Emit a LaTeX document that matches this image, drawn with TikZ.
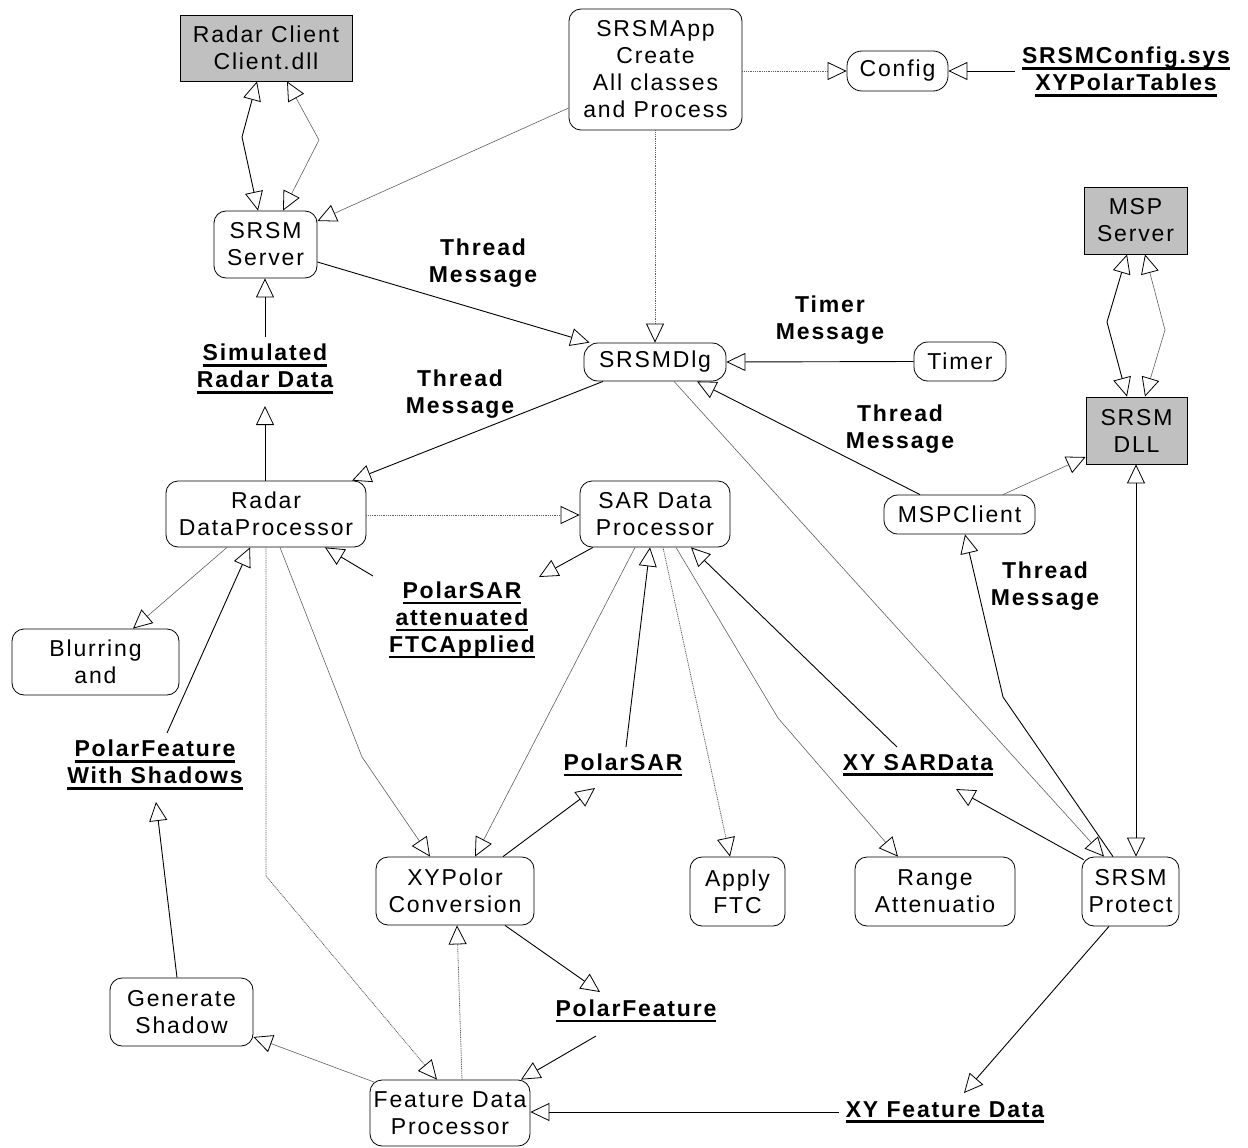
\documentclass[tikz,border=0pt]{standalone}
\usepackage{fontspec}
\setmainfont{Liberation Sans}[LetterSpace=8]
\usetikzlibrary{arrows.meta,calc}
\definecolor{boxgray}{RGB}{192,192,192}
\definecolor{linegray}{RGB}{95,95,95}
% underlined bold data label line
\newcommand\dataline[1]{\setbox0\hbox{#1}\rlap{\rule[-5.8pt]{\wd0}{2.6pt}}\box0}
\tikzset{
  open tri/.tip={Triangle[open,length=19pt,width=18pt,color=black,line width=0.8pt]},
  sz/.style 2 args={minimum width=#1pt,minimum height=#2pt},
  box/.style={draw,line width=0.8pt,rounded corners=12pt,align=center,inner sep=0pt},
  gbox/.style={draw,fill=boxgray,line width=0.8pt,align=center,inner sep=0pt},
  lbl/.style={align=center,inner sep=0pt,font=\fontsize{23}{27}\selectfont\bfseries},
  blk/.style={draw=black,line width=0.9pt,-{open tri}},
  thn/.style={draw=linegray,line width=0.6pt,-{open tri}},
  dot/.style={draw=linegray,line width=0.8pt,dash pattern=on 1pt off 0.8pt,-{open tri}},
}
\begin{document}
\begin{tikzpicture}[x=1pt,y=-1pt,font=\fontsize{23}{27}\selectfont]
\useasboundingbox (0,0) rectangle (1248,1148);

% ---- boxes ----
\node[gbox,sz={172}{66}] (rc) at (266,48) {Radar Client\\Client.dll};
\node[box,sz={173}{121}] (app) at (655.5,69.5) {SRSMApp\\Create\\All classes\\and Process};
\node[box,sz={101}{40},rounded corners=15pt] (cfg) at (897.5,71) {Config};
\node[box,sz={103}{67}] (srv) at (265.5,244.5) {SRSM\\Server};
\node[gbox,sz={103}{67}] (msps) at (1135.5,220.5) {MSP\\Server};
\node[box,sz={142}{38},rounded corners=14pt] (dlg) at (655,362) {SRSMDlg};
\node[box,sz={92}{39},rounded corners=14pt] (tmr) at (960,361.5) {Timer};
\node[gbox,sz={101}{67}] (dll) at (1136.5,430.5) {SRSM\\DLL};
\node[box,sz={200}{66}] (rdp) at (266,514) {Radar\\DataProcessor};
\node[box,sz={150}{66}] (sar) at (655,514) {SAR Data\\Processor};
\node[box,sz={151}{39},rounded corners=14pt] (mspc) at (959.5,514.5) {MSPClient};
\node[box,sz={167}{66}] (blur) at (95.5,662) {Blurring\\and};
\node[box,sz={158}{68}] (xyp) at (455,891) {XYPolor\\Conversion};
\node[box,sz={95}{69}] (ftc) at (737.5,891.5) {Apply\\FTC};
\node[box,sz={160}{69}] (rng) at (935,891.5) {Range\\Attenuatio};
\node[box,sz={97}{69}] (prot) at (1130.5,891.5) {SRSM\\Protect};
\node[box,sz={143}{68}] (gen) at (181.5,1012) {Generate\\Shadow};
\node[box,sz={160}{66}] (fdp) at (450,1113) {Feature Data\\Processor};

% ---- data labels ----
\node[lbl] (cfgfile) at (1126,72) {\dataline{SRSMConfig.sys}\\\dataline{XYPolarTables}};
\node[lbl] (sim) at (265,369) {\dataline{Simulated}\\\dataline{Radar Data}};
\node[lbl] (psa) at (462,620) {\dataline{PolarSAR}\\\dataline{attenuated}\\\dataline{FTCApplied}};
\node[lbl] (pfws) at (155,765) {\dataline{PolarFeature}\\\dataline{With Shadows}};
\node[lbl] (psar) at (623,765) {\dataline{PolarSAR}};
\node[lbl] (xysar) at (918,765) {\dataline{XY SARData}};
\node[lbl] (pf) at (636,1011) {\dataline{PolarFeature}};
\node[lbl] (xyfd) at (945,1112) {\dataline{XY Feature Data}};

% ---- message labels ----
\node[lbl] (tm1) at (483,263) {Thread\\Message};
\node[lbl] (tm2) at (460,394) {Thread\\Message};
\node[lbl] (tm3) at (900,429) {Thread\\Message};
\node[lbl] (tm4) at (1045,586) {Thread\\Message};
\node[lbl] (tmm) at (830,320) {Timer\\Message};

% ---- connectors ----
\draw[blk,{open tri}-{open tri}] (rc.south -| 257,0) -- (242,137) -- (srv.north -| 258,0);
\draw[thn,{open tri}-{open tri}] (rc.south -| 287,0) -- (319,140) -- (srv.north -| 283,0);
\draw[thn] (app.west |- 0,108) -- (srv.east |- 0,221);
\draw[dot] (app.east |- cfg.west) -- (cfg.west);
\draw[blk] ($(cfgfile.west |- cfg.east)+(-7,0)$) -- (cfg.east);
\draw[dot] (app.south -| dlg.north) -- (dlg.north);
\draw[blk] (srv.east |- 0,262) -- ($(dlg.north west)+(6,0)$);
\draw[blk] (tmr.west) -- (dlg.east);
\draw[blk] (dlg.south -| 603,0) -- (rdp.north -| 352,0);
\draw[blk] (mspc.north -| 920,0) -- (dlg.south -| 697,0);
\draw[thn] (dlg.south -| 674,0) -- (prot.north -| 1104,0);
\draw[blk] (prot.north -| 1113,0) -- (1003,697) -- (mspc.south -| 965,0);
\draw[thn] (mspc.north -| 1003,0) -- (dll.west |- 0,457);
\draw[blk,{open tri}-{open tri}] (msps.south -| 1127,0) -- (1107,322) -- (dll.north -| 1127,0);
\draw[thn,{open tri}-{open tri}] (msps.south -| 1145,0) -- (1165,330) -- (dll.north -| 1145,0);
\draw[blk,{open tri}-{open tri}] (dll.south -| 1136,0) -- (prot.north -| 1136,0);
\draw[blk] (rdp.north -| sim.south) -- ($(sim.center)+(0,37)$);
\draw[blk] ($(sim.center)+(0,-32)$) -- (srv.south -| sim.center);
\draw[dot] (rdp.east |- 0,515) -- (sar.west |- 0,515);
\draw[blk] (sar.south -| 593,0) -- ($(psa.center)+(77,-43)$);
\draw[blk] ($(psa.center)+(-89,-44)$) -- (rdp.south -| 325,0);
\draw[thn] (rdp.south -| 227,0) -- (blur.north -| 133,0);
\draw[blk] ($(pfws.center)+(12,-32)$) -- (rdp.south -| 250,0);
\draw[dot] (rdp.south) -- (266,876) -- (fdp.north -| 437,0);
\draw[thn] (rdp.south -| 280,0) -- (362,757) -- (xyp.north -| 430,0);
\draw[thn] (sar.south -| 635,0) -- (xyp.north -| 475,0);
\draw[blk] ($(psar.center)+(3,-18)$) -- (sar.south -| 650,0);
\draw[blk] (xyp.north -| 503,0) -- ($(psar.center)+(-28,23)$);
\draw[dot] (sar.south -| 663,0) -- (ftc.north -| 730,0);
\draw[thn] (sar.south -| 676,0) -- (778,718) -- (rng.north -| 898,0);
\draw[blk] ($(xysar.center)+(-21,-18)$) -- (sar.south -| 691,0);
\draw[blk] ($(prot.north west)+(2,3)$) -- ($(xysar.center)+(38,24)$);
\draw[blk] (prot.south -| 1109,0) -- ($(xyfd.center)+(19,-19)$);
\draw[blk] ($(xyfd.west)+(-7,0)$) -- (fdp.east |- xyfd.west);
\draw[blk] (xyp.south -| 505,0) -- ($(pf.center)+(-36,-19)$);
\draw[blk] ($(pf.center)+(-40,25)$) -- (fdp.north -| 521,0);
\draw[dot] (fdp.north -| 462,0) -- (xyp.south -| 457,0);
\draw[thn] ($(fdp.north west)+(6,3)$) -- (gen.east |- 0,1037);
\draw[blk] (gen.north -| 177,0) -- ($(pfws.center)+(1,37)$);
\end{tikzpicture}
\end{document}
